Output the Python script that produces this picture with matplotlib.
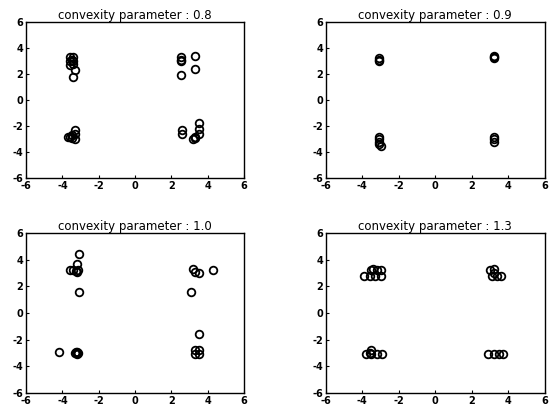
import matplotlib
matplotlib.use("Agg")
import matplotlib.pyplot as plt

plt.rcParams['axes.unicode_minus'] = False

# panel titles
titles = ["convexity parameter : 0.8", "convexity parameter : 0.9",
          "convexity parameter : 1.0", "convexity parameter : 1.3"]

# point coordinates per panel
x08 = [-3.6, -3.4, -3.6, -3.4, -3.6, -3.4, -3.3, -3.4, -3.5,
       2.5, 2.5, 2.5, 2.5, 3.3, 3.3,
       -3.6, -3.5, -3.7, -3.3, -3.3, -3.3, -3.5,
       2.6, 2.6, 3.5, 3.5, 3.5, 3.3, 3.2, 3.3]
y08 = [3.3, 3.3, 3.0, 3.0, 2.7, 2.8, 2.3, 1.8, 3.1,
       3.3, 3.1, 3.0, 1.9, 3.4, 2.4,
       -2.8, -2.7, -2.8, -2.3, -2.6, -3.0, -2.9,
       -2.3, -2.6, -1.8, -2.2, -2.6, -2.8, -3.0, -2.9]

x09 = [-3.1, -3.1, -3.1, 3.2, 3.2, 3.2,
       -3.1, -3.1, -3.1, -3.1, -3.0, 3.2, 3.2, 3.2]
y09 = [3.2, 3.1, 3.0, 3.4, 3.3, 3.2,
       -2.8, -3.0, -3.2, -3.4, -3.5, -2.8, -3.0, -3.2]

x10 = [-3.1, -3.2, -3.6, -3.4, -3.2, -3.15, -3.25, -3.1,
       -4.2, -3.2, -3.3, -3.2, -3.15, -3.25,
       3.2, 3.3, 3.5, 4.3, 3.1, 3.5, 3.3, 3.5, 3.3, 3.5]
y10 = [4.4, 3.7, 3.2, 3.2, 3.1, 3.2, 3.15, 1.6,
       -2.9, -2.9, -3.0, -3.1, -3.0, -2.95,
       3.3, 3.1, 3.0, 3.2, 1.6, -1.6, -2.8, -2.8, -3.1, -3.1]

x13 = [-3.9, -3.6, -3.3, -3.0, -3.5, -3.2, -3.0, -3.4,
       3.0, 3.2, 3.2, 3.1, 3.4, 3.6,
       -3.8, -3.5, -3.2, -2.9, -3.5, -3.6,
       2.9, 3.2, 3.5, 3.7]
y13 = [2.8, 2.8, 2.8, 2.8, 3.2, 3.2, 3.2, 3.3,
       3.2, 3.3, 3.0, 2.8, 2.8, 2.8,
       -3.1, -3.1, -3.1, -3.1, -2.8, -3.0,
       -3.1, -3.1, -3.1, -3.1]

xs = [x08, x09, x10, x13]
ys = [y08, y09, y10, y13]

fig = plt.figure(figsize=(5.56, 4.05), dpi=100)
rects = [[0.047, 0.560, 0.392, 0.386],
         [0.586, 0.560, 0.394, 0.386],
         [0.047, 0.030, 0.392, 0.395],
         [0.586, 0.030, 0.394, 0.395]]

ticks = [-6, -4, -2, 0, 2, 4, 6]
for i in range(4):
    ax = fig.add_axes(rects[i])
    ax.plot(xs[i], ys[i], 'o', mfc='none', mec='black', ms=5.5, mew=1.3)
    ax.set_xlim(-6, 6)
    ax.set_ylim(-6, 6)
    ax.set_xticks(ticks)
    ax.set_yticks(ticks)
    ax.tick_params(direction='in', length=2.5, labelsize=7, pad=2)
    for lab in ax.get_xticklabels() + ax.get_yticklabels():
        lab.set_fontweight('bold')
    ax.set_title(titles[i], fontsize=8.5, pad=2)
    for s in ax.spines.values():
        s.set_linewidth(1.0)

fig.savefig("out.png", dpi=100)
